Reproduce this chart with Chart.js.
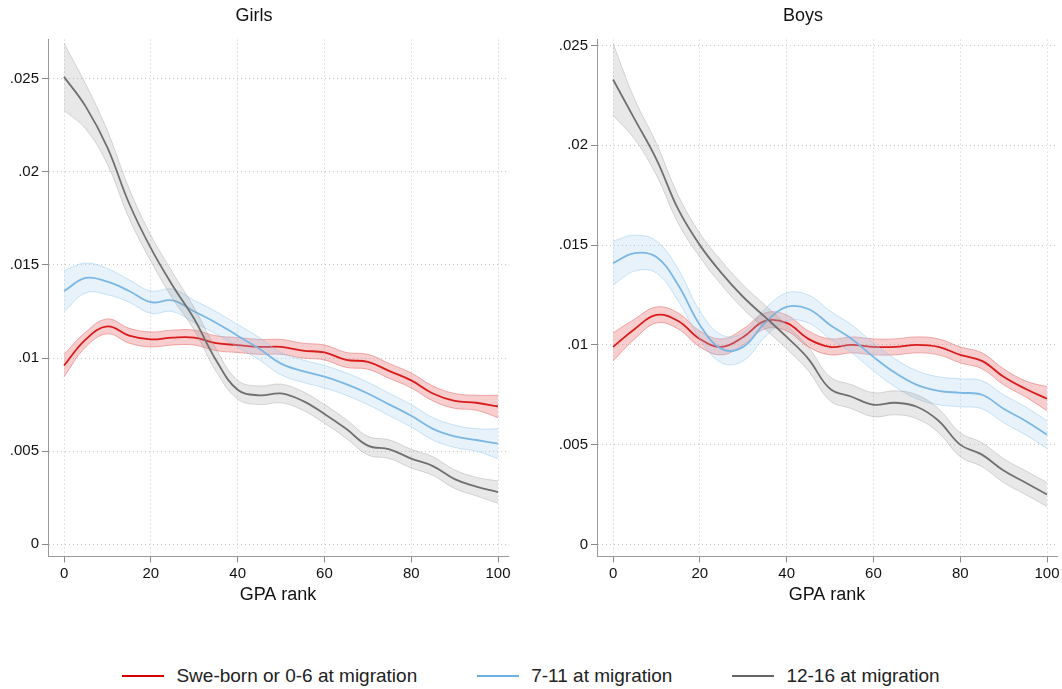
<!DOCTYPE html>
<html>
<head>
<meta charset="utf-8">
<script src="https://cdn.jsdelivr.net/npm/chart.js@4"></script>
<style>
  body { margin: 0; background: #fff; font-family: "Liberation Sans", Arial, sans-serif; }
  #wrap { position: relative; width: 1062px; height: 689px; }
  .box { position: absolute; top: 0; width: 522px; height: 606px; }
  #legend { position: absolute; top: 665px; left: 0; width: 1062px; display: flex; justify-content: center; gap: 60px; font-size: 19px; color: #222; }
  #legend span.item { display: flex; align-items: center; }
  #legend i { display: inline-block; width: 42px; height: 0; margin-right: 12px; }
</style>
</head>
<body>
<div id="wrap">
  <div class="box" style="left:0"><canvas id="girls"></canvas></div>
  <div class="box" style="left:549px"><canvas id="boys"></canvas></div>
  <div id="legend">
    <span class="item"><i style="border-top:2px solid #d40000"></i>Swe-born or 0-6 at migration</span>
    <span class="item"><i style="border-top:2px solid #6fb0e0"></i>7-11 at migration</span>
    <span class="item"><i style="border-top:2px solid #666"></i>12-16 at migration</span>
  </div>
</div>
<script>
const ranks = [0, 5, 10, 15, 20, 25, 30, 35, 40, 45, 50, 55, 60, 65, 70, 75, 80, 85, 90, 95, 100];
const xTicks = [0, 20, 40, 60, 80, 100];
const yTicks = [0, 0.005, 0.01, 0.015, 0.02, 0.025];

// Girls
const girlsRed = [.0096, .0110, .0117, .0112, .0110, .0111, .0111, .0108, .0107, .0106, .0106, .0104, .0103, .0099, .0098, .0093, .0088, .0081, .0077, .0076, .0074];
const girlsRedSe = [.0006, .0004, .0004, .0004, .0004, .0004, .0004, .0004, .0004, .0004, .0004, .0004, .0004, .0004, .0004, .0004, .0004, .0004, .0004, .0004, .0006];
const girlsBlue = [.0136, .0143, .0141, .0136, .0130, .0131, .0125, .0119, .0112, .0105, .0097, .0093, .0090, .0086, .0081, .0075, .0069, .0062, .0058, .0056, .0054];
const girlsBlueSe = [.0011, .0008, .0007, .0006, .0006, .0006, .0006, .0006, .0006, .0006, .0006, .0006, .0006, .0006, .0006, .0006, .0006, .0006, .0006, .0006, .0008];
const girlsGray = [.0251, .0235, .0213, .0183, .0159, .0139, .0121, .0099, .0083, .0080, .0081, .0077, .0070, .0062, .0053, .0051, .0046, .0042, .0035, .0031, .0028];
const girlsGraySe = [.0018, .0012, .0009, .0008, .0007, .0007, .0006, .0006, .0005, .0005, .0005, .0005, .0005, .0005, .0005, .0005, .0005, .0005, .0005, .0005, .0006];

// Boys
const boysRed = [.0099, .0108, .0115, .0112, .0103, .0099, .0104, .0112, .0111, .0103, .0099, .0100, .0099, .0099, .0100, .0099, .0095, .0092, .0084, .0078, .0073];
const boysRedSe = [.0007, .0005, .0004, .0004, .0004, .0004, .0004, .0004, .0004, .0004, .0004, .0004, .0004, .0004, .0004, .0004, .0004, .0004, .0004, .0004, .0006];
const boysBlue = [.0141, .0146, .0144, .0130, .0110, .0098, .0099, .0111, .0119, .0118, .0110, .0103, .0094, .0086, .0080, .0077, .0076, .0075, .0068, .0062, .0055];
const boysBlueSe = [.0011, .0009, .0008, .0008, .0007, .0007, .0007, .0007, .0007, .0007, .0007, .0007, .0007, .0007, .0007, .0007, .0007, .0007, .0007, .0007, .0007];
const boysGray = [.0233, .0213, .0193, .0168, .0150, .0136, .0124, .0114, .0104, .0093, .0078, .0074, .0070, .0071, .0069, .0062, .0050, .0045, .0037, .0031, .0025];
const boysGraySe = [.0018, .0010, .0008, .0007, .0006, .0006, .0006, .0006, .0006, .0006, .0006, .0006, .0006, .0006, .0006, .0006, .0006, .0006, .0006, .0006, .0006];

const pts = (vals, off = [], sign = 0) => ranks.map((r, i) => ({ x: r, y: vals[i] + sign * (off[i] || 0) }));

const series = (vals, se, line, fill, edge) => [
    { data: pts(vals, se, 1), borderColor: edge, borderWidth: 1, backgroundColor: fill, fill: '+1', pointRadius: 0, tension: 0.4 },
    { data: pts(vals, se, -1), borderColor: edge, borderWidth: 1, fill: false, pointRadius: 0, tension: 0.4 },
    { data: pts(vals), borderColor: line, borderWidth: 1.8, fill: false, pointRadius: 0, tension: 0.4 },
];

const fmt = (v) => (v === 0 ? '0' : String(+v.toFixed(3)).replace(/^0/, ''));

const makeChart = (id, title, datasets, yMin, yMax) => {
    new Chart(document.getElementById(id), {
        type: 'line',
        data: { datasets },
        options: {
            responsive: true,
            maintainAspectRatio: false,
            animation: false,
            layout: { padding: { right: 14, top: 0 } },
            plugins: {
                legend: { display: false },
                tooltip: { enabled: false },
                title: { display: true, text: title, color: '#111', font: { size: 18, family: 'Liberation Sans', weight: 'normal' }, padding: { top: 5, bottom: 13 } },
            },
            scales: {
                x: {
                    type: 'linear', min: -3.7, max: 102.3,
                    afterBuildTicks: (s) => { s.ticks = xTicks.map((v) => ({ value: v })); },
                    grid: { color: '#c8c8c8', lineWidth: 1, tickLength: 6, tickColor: '#888', drawTicks: true },
                    border: { color: '#999', dash: [1, 3], display: true },
                    ticks: { color: '#111', font: { size: 15, family: 'Liberation Sans' }, padding: 2, maxRotation: 0 },
                    title: { display: true, text: 'GPA rank', color: '#111', font: { size: 18, family: 'Liberation Sans' }, padding: 0 },
                },
                y: {
                    min: yMin, max: yMax,
                    afterBuildTicks: (s) => { s.ticks = yTicks.filter((v) => v <= yMax).map((v) => ({ value: v })); },
                    afterFit: (s) => { s.width = 48; },
                    grid: { color: '#c8c8c8', tickLength: 6, tickColor: '#888' },
                    border: { color: '#999', dash: [1, 3] },
                    ticks: { color: '#111', font: { size: 15, family: 'Liberation Sans' }, padding: 3, callback: fmt },
                },
            },
        },
    });
};

makeChart('girls', 'Girls', [
    ...series(girlsGray, girlsGraySe, '#666666', 'rgba(150,150,150,0.22)', 'rgba(150,150,150,0.35)'),
    ...series(girlsBlue, girlsBlueSe, '#6fb0e0', 'rgba(160,205,240,0.25)', 'rgba(140,195,235,0.45)'),
    ...series(girlsRed, girlsRedSe, '#d40000', 'rgba(230,90,90,0.3)', 'rgba(225,100,100,0.5)'),
], -0.00065, 0.0271);

makeChart('boys', 'Boys', [
    ...series(boysGray, boysGraySe, '#666666', 'rgba(150,150,150,0.22)', 'rgba(150,150,150,0.35)'),
    ...series(boysBlue, boysBlueSe, '#6fb0e0', 'rgba(160,205,240,0.25)', 'rgba(140,195,235,0.45)'),
    ...series(boysRed, boysRedSe, '#d40000', 'rgba(230,90,90,0.3)', 'rgba(225,100,100,0.5)'),
], -0.0006, 0.0253);
</script>
</body>
</html>
